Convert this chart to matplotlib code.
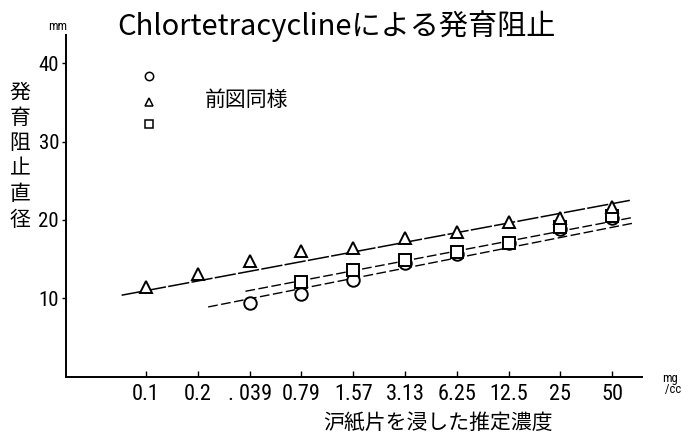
import matplotlib
matplotlib.use("Agg")
import matplotlib.pyplot as plt

# concentration steps on the x axis (mg/cc), equally spaced
conc_labels = ["0.1", "0.2", ". 039", "0.79", "1.57", "3.13", "6.25", "12.5", "25", "50"]

# inhibition zone diameters (mm)
tri_idx = [0, 1, 2, 3, 4, 5, 6, 7, 8, 9]
tri_mm = [11.5, 13.1, 14.7, 16.1, 16.4, 17.7, 18.4, 19.7, 20.2, 21.6]

sq_idx = [3, 4, 5, 6, 7, 8, 9]
sq_mm = [12.1, 13.6, 14.9, 15.9, 17.1, 19.1, 20.5]

circ_idx = [2, 3, 4, 5, 6, 7, 8, 9]
circ_mm = [9.4, 10.6, 12.3, 14.5, 15.7, 17.0, 18.9, 20.2]

# hand-fitted straight lines: (x start, x end), (mm start, mm end)
tri_fit = ([-0.47, 9.34], [10.4, 22.5])
sq_fit = ([1.92, 9.38], [10.9, 20.3])
circ_fit = ([1.2, 9.41], [8.9, 19.6])

jp = ["Noto Sans CJK JP", "DejaVu Sans"]
narrow = ["Roboto Condensed", "Liberation Sans Narrow", "Roboto", "DejaVu Sans"]

W, H = 688, 448
fig = plt.figure(figsize=(W / 100, H / 100), dpi=100)
ax = fig.add_axes([66 / W, 1 - 376.7 / H, (642 - 66) / W, (376.7 - 35) / H])

ax.set_xlim(-1.544, 9.575)
ax.set_ylim(0, 43.6)

for s in ["top", "right"]:
    ax.spines[s].set_visible(False)
for s in ["left", "bottom"]:
    ax.spines[s].set_linewidth(1.4)

ax.plot(*tri_fit, color="black", lw=1.1, ls=(0, (14, 1.5)), zorder=2)
ax.plot(*sq_fit, color="black", lw=1.0, ls=(0, (7, 2.5)), zorder=2)
ax.plot(*circ_fit, color="black", lw=1.0, ls=(0, (7, 2.5)), zorder=2)

mk = dict(ls="none", mfc="white", mec="black", mew=1.4, ms=9, zorder=3)
ax.plot(circ_idx, circ_mm, marker="o", **mk)
ax.plot(sq_idx, sq_mm, marker="s", **mk)
ax.plot(tri_idx, tri_mm, marker="^", **mk)

ax.set_xticks(range(len(conc_labels)))
ax.set_xticklabels(conc_labels, family=narrow, fontsize=16, stretch="condensed")
ax.tick_params(axis="x", direction="in", length=4, width=1, pad=5)

ax.set_yticks([10, 20, 30, 40])
ax.set_yticklabels(["10", "20", "30", "40"], family=narrow, fontsize=15,
                   stretch="condensed")
ax.tick_params(axis="y", direction="out", length=3, width=1, pad=2)

# legend drawn by hand: three symbols and one shared note
ax_leg = [(76, "o"), (101.7, "^"), (124, "s")]
for y, m in ax_leg:
    fig.lines.append(plt.Line2D([149.3 / W], [1 - y / H], marker=m, ls="none",
                                mfc="white", mec="black", mew=1.1, ms=6,
                                transform=fig.transFigure))
fig.text(205 / W, 1 - 100 / H, "前図同様", family=jp, fontsize=15,
         va="center", ha="left")

fig.text(117 / W, 1 - 26 / H, "Chlortetracyclineによる発育阻止", family=jp,
         fontsize=21, style="italic", va="center", ha="left")

fig.text(20 / W, 1 - 156 / H, "\n".join("発育阻止直径"), family=jp,
         fontsize=15, va="center", ha="center", linespacing=1.2)

fig.text(58 / W, 1 - 26 / H, "mm", family=narrow, fontsize=9,
         va="center", ha="center")
# unit at the end of the x axis, written as a stacked fraction
fig.text(662 / W, 1 - 384 / H, "mg\n /cc", family=narrow, fontsize=9,
         va="center", ha="left", linespacing=0.85)

fig.text(438 / W, 1 - 423 / H, "沪紙片を浸した推定濃度", family=jp,
         fontsize=15, va="center", ha="center")

fig.savefig("out.png", dpi=100)
